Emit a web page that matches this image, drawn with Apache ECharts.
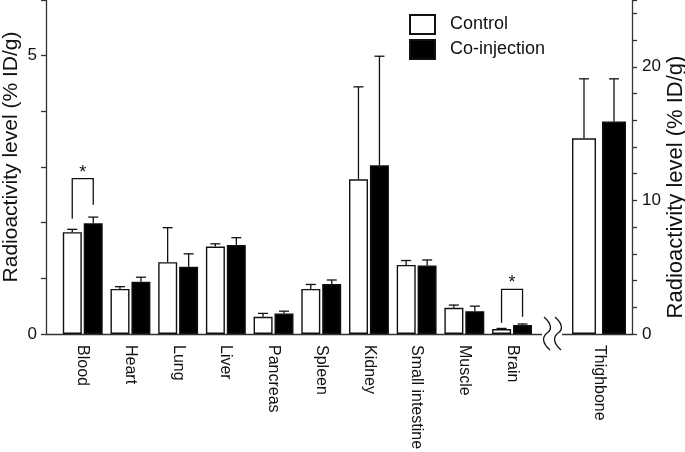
<!DOCTYPE html>
<html><head><meta charset="utf-8">
<script src="https://cdn.jsdelivr.net/npm/echarts@6/dist/echarts.min.js"></script>
<style>html,body{margin:0;padding:0;background:#fff}#c{width:685px;height:452px}</style>
</head><body><div id="c"></div>
<script>
// ---- data ----
const organs = ['Blood','Heart','Lung','Liver','Pancreas','Spleen','Kidney','Small intestine','Muscle','Brain'];
const controlMean = [1.83,0.81,1.29,1.57,0.31,0.81,2.78,1.24,0.47,0.09];
const controlErr  = [0.05,0.04,0.62,0.05,0.06,0.08,1.66,0.08,0.05,0.01];
const coMean      = [1.99,0.94,1.21,1.60,0.37,0.90,3.03,1.23,0.41,0.16];
const coErr       = [0.11,0.08,0.23,0.13,0.04,0.07,1.96,0.10,0.09,0.02];
const boneCategory = ['Thighbone'];
const boneControlMean = [14.65];
const boneControlErr  = [4.45];
const boneCoMean = [15.9];
const boneCoErr  = [3.2];
const leftTickLabels  = [0, 5];
const rightTickLabels = [0, 10, 20];
const sigOrgans   = ['Blood','Brain'];
const sigTop      = [2.79, 0.80];
const sigLeftEnd  = [2.07, 0.20];
const sigRightEnd = [2.32, 0.31];
const seriesNames = ['Control','Co-injection'];
const yTitle = 'Radioactivity level (% ID/g)';

// ---- chart ----
const FONT = '"Liberation Sans", Arial, Helvetica, sans-serif';
const ink = '#111';
const chart = echarts.init(document.getElementById('c'));

function errRender(offset){
  return function(params, api){
    const i = api.value(0), m = api.value(1), e = api.value(2);
    const a = api.coord([i, m]), b = api.coord([i, m + e]);
    const x = a[0] + offset, cap = 5;
    return {type:'group', children:[
      {type:'line', shape:{x1:x,y1:a[1],x2:x,y2:b[1]}, style:{stroke:ink,lineWidth:1.3}},
      {type:'line', shape:{x1:x-cap,y1:b[1],x2:x+cap,y2:b[1]}, style:{stroke:ink,lineWidth:1.3}}
    ]};
  };
}
function sigRender(params, api){
  const i = api.value(0);
  const t = api.coord([i, api.value(1)]);
  const l = api.coord([i, api.value(2)]);
  const r = api.coord([i, api.value(3)]);
  const xl = t[0] - 10.5, xr = t[0] + 10.5;
  return {type:'group', children:[
    {type:'polyline', shape:{points:[[xl,l[1]],[xl,t[1]],[xr,t[1]],[xr,r[1]]]}, style:{stroke:ink,lineWidth:1.3,fill:'none'}},
    {type:'text', style:{x:t[0], y:t[1]+3, text:'*', align:'center', verticalAlign:'bottom', font:'18px '+FONT, fill:ink}}
  ]};
}

const barStyle = (name) => name === 'Control'
  ? {color:'#fff', borderColor:ink, borderWidth:1.4}
  : {color:'#000', borderColor:ink, borderWidth:1.4};

function wave(x0){
  return [
    {type:'bezierCurve', shape:{x1:x0, y1:317, cpx1:x0+8, cpy1:324, cpx2:x0+8, cpy2:330, x2:x0+3, y2:333}, style:{stroke:ink, lineWidth:1.3, fill:'none'}, z:101},
    {type:'bezierCurve', shape:{x1:x0+3, y1:333, cpx1:x0-2, cpy1:337, cpx2:x0-2, cpy2:343, x2:x0+6, y2:350}, style:{stroke:ink, lineWidth:1.3, fill:'none'}, z:101}
  ];
}

const gridBase = {top:0, bottom:118, containLabel:false, outerBoundsMode:'none'};
const option = {
  animation:false,
  textStyle:{fontFamily:FONT},
  legend:{
    data: seriesNames, orient:'vertical', left:409, top:14, padding:0,
    itemWidth:25, itemHeight:19, itemGap:4, icon:'rect',
    textStyle:{fontSize:18, color:ink, fontFamily:FONT, padding:[0,0,0,10]}
  },
  grid:[
    Object.assign({left:46, right:53}, gridBase),
    Object.assign({left:58.9, width:477}, gridBase),
    Object.assign({left:566, right:53}, gridBase)
  ],
  xAxis:[
    {gridIndex:0, type:'value', min:0, max:1, axisLine:{show:true, onZero:false, lineStyle:{color:'#333', width:1.3}}, axisTick:{show:false}, axisLabel:{show:false}, splitLine:{show:false}},
    {gridIndex:1, type:'category', data:organs, axisLine:{show:false}, axisTick:{show:false},
     axisLabel:{rotate:-90, margin:11, interval:0, fontSize:16, color:ink, fontFamily:FONT}},
    {gridIndex:2, type:'category', data:boneCategory, axisLine:{show:false}, axisTick:{show:false},
     axisLabel:{rotate:-90, margin:11, interval:0, fontSize:16, color:ink, fontFamily:FONT}}
  ],
  yAxis:[
    {gridIndex:0, type:'value', position:'left', min:0, max:6, interval:1,
     axisLine:{show:true, lineStyle:{color:'#333', width:1.3}},
     axisTick:{show:true, length:5, lineStyle:{color:'#333', width:1.3}},
     axisLabel:{margin:9, fontSize:17, color:ink, fontFamily:FONT, formatter:v => leftTickLabels.includes(v) ? String(v) : ''},
     splitLine:{show:false},
     name:yTitle, nameLocation:'middle', nameRotate:90, nameGap:24, nameMoveOverlap:false,
     nameTextStyle:{fontSize:21, color:ink, fontFamily:FONT, padding:[0,0,0,20]}},
    {gridIndex:0, type:'value', position:'right', min:0, max:25, interval:2,
     axisLine:{show:true, lineStyle:{color:'#333', width:1.3}},
     axisTick:{show:true, length:5, lineStyle:{color:'#333', width:1.3}},
     axisLabel:{margin:10, fontSize:17, color:ink, fontFamily:FONT, formatter:v => rightTickLabels.includes(v) ? String(v) : ''},
     splitLine:{show:false},
     name:yTitle, nameLocation:'middle', nameRotate:90, nameGap:33, nameMoveOverlap:false,
     nameTextStyle:{fontSize:22, color:ink, fontFamily:FONT, padding:[0,40,0,0]}},
    {gridIndex:1, type:'value', min:0, max:6, show:false},
    {gridIndex:2, type:'value', min:0, max:25, show:false}
  ],
  series:[
    {name:'Control', type:'bar', xAxisIndex:1, yAxisIndex:2, data:controlMean, barWidth:19, barGap:'10%', itemStyle:barStyle('Control')},
    {name:'Co-injection', type:'bar', xAxisIndex:1, yAxisIndex:2, data:coMean, barWidth:19, barGap:'10%', itemStyle:barStyle('Co-injection')},
    {name:'Control', type:'bar', xAxisIndex:2, yAxisIndex:3, data:boneControlMean, barWidth:24, barGap:'25%', itemStyle:barStyle('Control')},
    {name:'Co-injection', type:'bar', xAxisIndex:2, yAxisIndex:3, data:boneCoMean, barWidth:24, barGap:'25%', itemStyle:barStyle('Co-injection')},
    {name:'errC', type:'custom', xAxisIndex:1, yAxisIndex:2, z:5, renderItem:errRender(-10.5), data:organs.map((o,i)=>[i, controlMean[i], controlErr[i]])},
    {name:'errK', type:'custom', xAxisIndex:1, yAxisIndex:2, z:5, renderItem:errRender(10.5), data:organs.map((o,i)=>[i, coMean[i], coErr[i]])},
    {name:'errBC', type:'custom', xAxisIndex:2, yAxisIndex:3, z:5, renderItem:errRender(-15), data:boneCategory.map((o,i)=>[i, boneControlMean[i], boneControlErr[i]])},
    {name:'errBK', type:'custom', xAxisIndex:2, yAxisIndex:3, z:5, renderItem:errRender(15), data:boneCategory.map((o,i)=>[i, boneCoMean[i], boneCoErr[i]])},
    {name:'sig', type:'custom', xAxisIndex:1, yAxisIndex:2, z:5, renderItem:sigRender,
     data:sigOrgans.map((o,k)=>[organs.indexOf(o), sigTop[k], sigLeftEnd[k], sigRightEnd[k]])}
  ],
  graphic:[
    {type:'rect', shape:{x:542, y:331, width:20, height:6}, style:{fill:'#fff'}, z:100}
  ].concat(wave(544), wave(555))
};
chart.setOption(option);
</script>
</body></html>
